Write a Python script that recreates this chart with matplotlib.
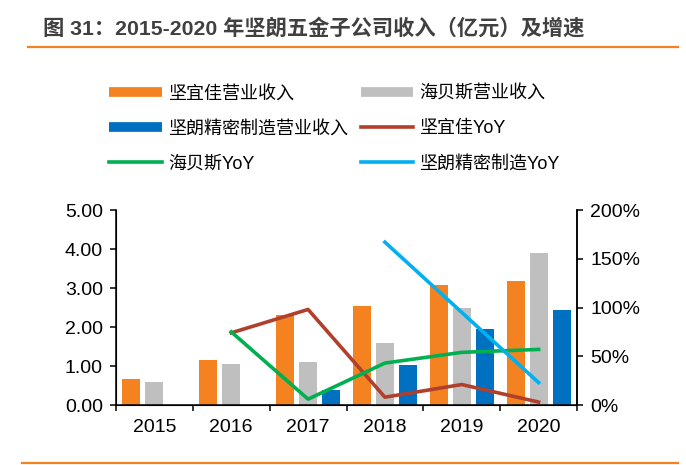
import numpy as np
import matplotlib.pyplot as plt
from matplotlib.lines import Line2D

plt.rcParams['font.family'] = ['Liberation Sans', 'Noto Sans CJK SC']

years = ["2015", "2016", "2017", "2018", "2019", "2020"]
# revenue, 100 million yuan
jyj_rev = [0.67, 1.15, 2.31, 2.54, 3.08, 3.18]
hbs_rev = [0.59, 1.05, 1.10, 1.59, 2.49, 3.90]
jl_rev = [np.nan, np.nan, 0.38, 1.02, 1.95, 2.43]
# yoy growth, %
jyj_yoy = [np.nan, 74, 98, 8, 21, 3]
hbs_yoy = [np.nan, 75, 6, 43, 54, 57]
jl_yoy = [np.nan, np.nan, np.nan, 167, 95, 23]

c_orange = "#F58220"
c_gray = "#BFBFBF"
c_blue = "#0070C0"
c_red = "#B0402C"
c_green = "#00B050"
c_lblue = "#00B0F0"

fig = plt.figure(figsize=(6.86, 4.65), dpi=100)
ax = fig.add_axes([116 / 686, 1 - 405 / 465, 461 / 686, 195 / 465])

x = np.arange(len(years))
w = 0.235
ax.bar(x - 0.3, jyj_rev, w, color=c_orange, zorder=2)
ax.bar(x, hbs_rev, w, color=c_gray, zorder=2)
ax.bar(x + 0.3, jl_rev, w, color=c_blue, zorder=2)

ax.set_xlim(-0.5, 5.5)
ax.set_ylim(0, 5)
ax.set_yticks(np.arange(0, 5.01, 1))
ax.set_yticklabels([f"{v:.2f}" for v in np.arange(0, 5.01, 1)])
ax.set_xticks(np.arange(-0.5, 5.6, 1))
ax.set_xticklabels([])
ax.set_xticks(x, minor=True)
ax.set_xticklabels(years, minor=True)
ax.tick_params(axis="x", which="minor", length=0, pad=10, labelsize=14)
ax.tick_params(axis="x", which="major", length=4, width=1.1, direction="out")
ax.tick_params(axis="y", length=4.5, width=1.1, pad=5, labelsize=14)
ax.spines["top"].set_visible(False)
for s in ["left", "bottom", "right"]:
    ax.spines[s].set_linewidth(1.1)

ax2 = ax.twinx()
ax2.plot(x, jyj_yoy, color=c_red, lw=2.6, zorder=3)
ax2.plot(x, hbs_yoy, color=c_green, lw=2.6, zorder=3)
ax2.plot(x, jl_yoy, color=c_lblue, lw=2.6, zorder=3)
ax2.set_ylim(0, 200)
ax2.set_yticks([0, 50, 100, 150, 200])
ax2.set_yticklabels(["0%", "50%", "100%", "150%", "200%"])
ax2.tick_params(axis="y", length=4.5, width=1.1, pad=5, labelsize=14)
ax2.spines["top"].set_visible(False)
ax2.spines["right"].set_linewidth(1.1)

# legend, filled column by column
handles = [
    Line2D([], [], color=c_orange, lw=7, solid_capstyle="butt"),
    Line2D([], [], color=c_blue, lw=7, solid_capstyle="butt"),
    Line2D([], [], color=c_green, lw=2.6),
    Line2D([], [], color=c_gray, lw=7, solid_capstyle="butt"),
    Line2D([], [], color=c_red, lw=2.6),
    Line2D([], [], color=c_lblue, lw=2.6),
]
labels = ["坚宜佳营业收入", "坚朗精密制造营业收入", "海贝斯YoY",
          "海贝斯营业收入", "坚宜佳YoY", "坚朗精密制造YoY"]
fig.legend(handles, labels, loc="upper left", bbox_to_anchor=(102 / 686, 1 - 78 / 465),
           ncol=2, frameon=False, fontsize=13, handlelength=2.9, handletextpad=0.35,
           columnspacing=0.7, labelspacing=1.0, borderaxespad=0)

fig.text(43 / 686, 1 - 28 / 465, "图 31：2015-2020 年坚朗五金子公司收入（亿元）及增速",
         fontsize=15.3, fontweight="bold", color="#404040", va="center", ha="left")
fig.add_artist(Line2D([28 / 686, 678 / 686], [1 - 47 / 465, 1 - 47 / 465],
                      color=c_orange, lw=1.6))
fig.add_artist(Line2D([22 / 686, 678 / 686], [1 - 463 / 465, 1 - 463 / 465],
                      color=c_orange, lw=1.6))

fig.savefig("out.png", dpi=100)
